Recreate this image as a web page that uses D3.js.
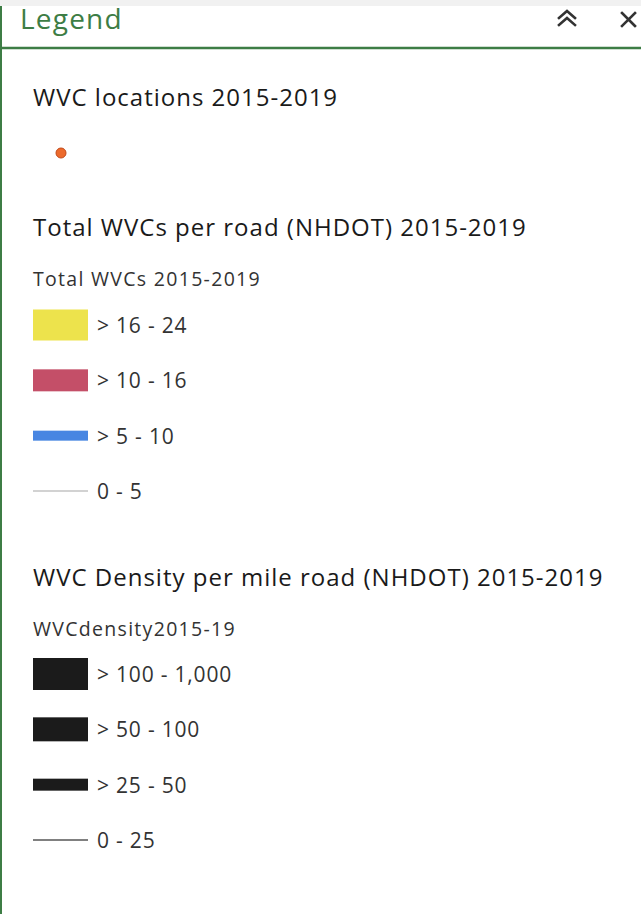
<!DOCTYPE html>
<html>
<head>
<meta charset="utf-8">
<script src="https://cdn.jsdelivr.net/npm/d3@7"></script>
<style>
  html, body { margin: 0; padding: 0; background: #fff; }
  svg { display: block; font-family: "Open Sans", "Noto Sans", sans-serif; }
</style>
</head>
<body>
<div id="legend"></div>
<script>
// ---- data -----------------------------------------------------------------
const panelTitle   = 'Legend';
const layerTitles  = ['WVC locations 2015-2019',
                      'Total WVCs per road (NHDOT) 2015-2019',
                      'WVC Density per mile road (NHDOT) 2015-2019'];
const fieldNames   = ['Total WVCs 2015-2019', 'WVCdensity2015-19'];
const countClasses = ['> 16 - 24', '> 10 - 16', '> 5 - 10', '0 - 5'];
const densityClasses = ['> 100 - 1,000', '> 50 - 100', '> 25 - 50', '0 - 25'];

// ---- styles ---------------------------------------------------------------
const W = 641, H = 914;
const green = '#3d7d45';
const countColor   = d3.scaleOrdinal(countClasses, ['#ede34c', '#c44f68', '#4886e2', '#d2d2d2']);
const countSize    = d3.scaleOrdinal(countClasses, [31, 22, 10, 2]);
const densityColor = d3.scaleOrdinal(densityClasses, ['#1b1b1b', '#1b1b1b', '#1b1b1b', '#808080']);
const densitySize  = d3.scaleOrdinal(densityClasses, [32, 24, 12, 2]);

const svg = d3.select('#legend').append('svg').attr('width', W).attr('height', H);

// ---- panel shell ----------------------------------------------------------
svg.append('rect').attr('x', 0).attr('y', 0).attr('width', W).attr('height', 6).attr('fill', '#f1f1f1');
svg.append('line').attr('x1', 1).attr('x2', 1).attr('y1', 6).attr('y2', H)
  .attr('stroke', green).attr('stroke-width', 2);
svg.append('line').attr('x1', 0).attr('x2', W).attr('y1', 48).attr('y2', 48)
  .attr('stroke', green).attr('stroke-width', 2.5);

svg.append('text').attr('x', 20).attr('y', 29)
  .attr('fill', green).attr('font-size', 28).attr('letter-spacing', 1.2)
  .text(panelTitle);

// collapse (double chevron) + close icons
const icons = svg.append('g').attr('fill', 'none').attr('stroke', '#333')
  .attr('stroke-width', 2.6).attr('stroke-linecap', 'square');
icons.append('path').attr('d', 'M559,18 L567,11 L575,18 M559,25 L567,18 L575,25');
icons.append('path').attr('d', 'M622,13 L635,26 M635,13 L622,26');

// ---- layer titles ---------------------------------------------------------
const titleY = d3.scaleOrdinal(layerTitles, [106, 236, 586]);
svg.selectAll('text.layer').data(layerTitles).join('text')
  .attr('class', 'layer')
  .attr('x', 33).attr('y', d => titleY(d))
  .attr('fill', '#1a1a1a').attr('font-size', 24).attr('letter-spacing', 1)
  .text(d => d);

const fieldY = d3.scaleOrdinal(fieldNames, [286, 636]);
svg.selectAll('text.field').data(fieldNames).join('text')
  .attr('class', 'field')
  .attr('x', 33).attr('y', d => fieldY(d))
  .attr('fill', '#333').attr('font-size', 19.5).attr('letter-spacing', 1.3)
  .text(d => d);

// point symbol
svg.append('circle').attr('cx', 61).attr('cy', 153).attr('r', 5)
  .attr('fill', '#ec6a2c').attr('stroke', '#c24a1a').attr('stroke-width', 1);

// ---- class rows -----------------------------------------------------------
function drawRows(classes, color, size, y0) {
  const y = d3.scalePoint().domain(classes).range([y0, y0 + 166]);
  const g = svg.append('g');
  const row = g.selectAll('g').data(classes).join('g')
    .attr('transform', d => `translate(0,${y(d)})`);
  row.append('rect')
    .attr('x', 33).attr('width', 55)
    .attr('y', d => -size(d) / 2).attr('height', d => size(d))
    .attr('fill', d => color(d));
  row.append('text')
    .attr('x', 97).attr('y', 8)
    .attr('fill', '#333').attr('font-size', 21).attr('letter-spacing', 0.8)
    .text(d => d);
}
drawRows(countClasses, countColor, countSize, 325);
drawRows(densityClasses, densityColor, densitySize, 674);
</script>
</body>
</html>
